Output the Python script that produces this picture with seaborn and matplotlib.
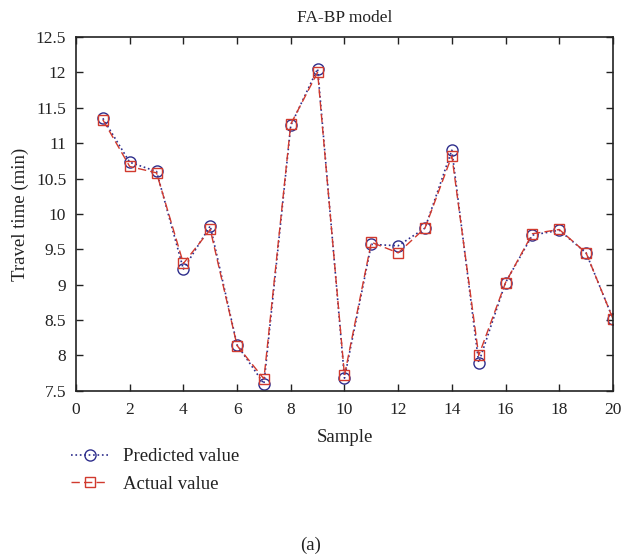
import seaborn as sns
import matplotlib.pyplot as plt
import pandas as pd

sample = list(range(1, 21))
predicted = [11.35, 10.73, 10.60, 9.22, 9.83, 8.15, 7.60, 11.25, 12.05, 7.68,
             9.57, 9.55, 9.80, 10.90, 7.90, 9.03, 9.70, 9.77, 9.45, 8.52]
actual = [11.33, 10.67, 10.58, 9.30, 9.78, 8.14, 7.67, 11.27, 12.00, 7.72,
          9.60, 9.45, 9.80, 10.82, 8.00, 9.03, 9.72, 9.78, 9.45, 8.52]

sns.set_style('ticks')
plt.rcParams['font.family'] = ['Liberation Serif', 'DejaVu Serif']

df_pred = pd.DataFrame({'Sample': sample, 'value': predicted})
df_act = pd.DataFrame({'Sample': sample, 'value': actual})

fig = plt.figure(figsize=(6.21, 5.6), dpi=100)
ax = fig.add_axes([0.1224, 0.302, 0.8646, 0.632])

blue = '#2e2e8c'
red = '#d13a2e'

sns.lineplot(data=df_pred, x='Sample', y='value', ax=ax, color=blue,
             linestyle=':', linewidth=1.2, marker='o', markersize=8,
             markerfacecolor='none', markeredgecolor=blue, markeredgewidth=1.0,
             label='Predicted value')
sns.lineplot(data=df_act, x='Sample', y='value', ax=ax, color=red,
             linestyle=(0, (6, 3)), linewidth=1.0, marker='s', markersize=7,
             markerfacecolor='none', markeredgecolor=red, markeredgewidth=1.0,
             label='Actual value')

ax.set_xlim(0, 20)
ax.set_ylim(7.5, 12.5)
ax.set_xticks(range(0, 21, 2))
ax.set_yticks([7.5, 8, 8.5, 9, 9.5, 10, 10.5, 11, 11.5, 12, 12.5])
ax.set_yticklabels(['7.5', '8', '8.5', '9', '9.5', '10', '10.5', '11', '11.5', '12', '12.5'])
ax.tick_params(direction='in', top=True, right=True, labelsize=12.5, length=5,
               width=1, colors='#222222', labelcolor='#222222')
ax.tick_params(axis='x', pad=8)
ax.tick_params(axis='y', pad=7)
for s in ax.spines.values():
    s.set_linewidth(1.2)
    s.set_color('#222222')

ax.set_title('FA-BP model', fontsize=12.5, color='#222222', pad=11)
ax.set_xlabel('Sample', fontsize=13.5, color='#222222', labelpad=8)
ax.set_ylabel('Travel time (min)', fontsize=13.5, color='#222222', labelpad=5)

handles, labels = ax.get_legend_handles_labels()
ax.legend_.remove()
fig.legend(handles, labels, loc='upper left', bbox_to_anchor=(0.087, 0.23),
           frameon=False, fontsize=13.5, handlelength=2.0, handletextpad=0.8,
           labelspacing=0.55, labelcolor='#222222')

fig.text(0.5, 0.01, '(a)', ha='center', va='bottom', fontsize=13.5, color='#222222')

fig.savefig('out.png', dpi=100)
